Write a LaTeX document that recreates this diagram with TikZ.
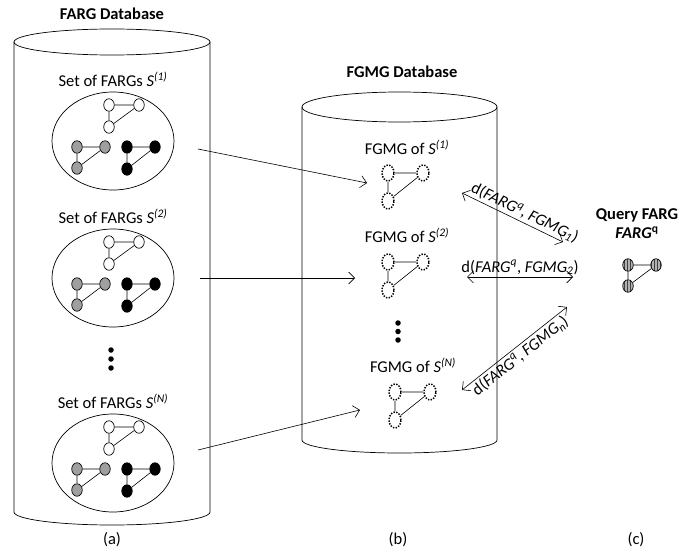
\documentclass[tikz,border=0pt]{standalone}
\usepackage{fontspec}
\setmainfont{Carlito}
\usepackage{tikz}
\usetikzlibrary{arrows.meta, positioning, calc, shapes.geometric, patterns}
\tikzset{
x=1pt, y=1pt,
>={Straight Barb[length=6pt,width=12pt]},
black!85,
text=black,
lbl/.style={font=\fontsize{16.5}{19}\selectfont, inner sep=2pt},
title/.style={lbl, font=\fontsize{16.5}{19}\selectfont\bfseries},
dbline/.style={line width=0.7pt},
setbox/.style={%
    ellipse,
    draw,
    line width=0.7pt,
    minimum width=122,
    minimum height=98,
},
vtx/.style={%
    ellipse, draw=black, inner sep=0pt,
    minimum width=10.5, minimum height=12.5, line width=0.7pt
},
wv/.style={vtx, fill=white},
gv/.style={vtx, fill=gray!75},
bv/.style={vtx, fill=black},
fv/.style={vtx, dash pattern=on 1.4pt off 1.4pt, line width=1.5pt, minimum width=12, minimum height=16},
qv/.style={vtx, preaction={fill=gray!60}, pattern=vertical lines, pattern color=black!75},
dot/.style={circle, fill=black, inner sep=0pt, minimum size=5.5},
link/.style={line width=0.6pt},
conn/.style={->, line width=0.6pt},
dist/.style={<->, line width=0.6pt},
}

\begin{document}
\begin{tikzpicture}
	\useasboundingbox (0,0) rectangle (694,-551);

	% (a) FARG database
	\node[title] (fargdb) at (112,-14) {FARG Database};
	\draw[dbline] (14,-42) -- (14,-512) arc[start angle=180, end angle=360, x radius=98, y radius=13] -- (210,-42);
	\draw[dbline] (112,-42) ellipse[x radius=98, y radius=13];

	\foreach \s/\cy/\idx in {1/141/1, 2/278/2, n/463/N} {
		\node[setbox] (set\s) at (113,-\cy) {};
		\node[lbl, above=3pt of set\s] (setlbl\s) {Set of FARGs \textit{S}\textsuperscript{\textit{(\idx)}}};
		\node[wv] (w\s-1) at ($(set\s)+(-4,36)$) {};
		\node[wv] (w\s-2) at ($(set\s)+(26,36)$) {};
		\node[wv] (w\s-3) at ($(set\s)+(-4,14)$) {};
		\node[gv] (g\s-1) at ($(set\s)+(-36,-6)$) {};
		\node[gv] (g\s-2) at ($(set\s)+(-8,-6)$) {};
		\node[gv] (g\s-3) at ($(set\s)+(-36,-27)$) {};
		\node[bv] (b\s-1) at ($(set\s)+(14,-6)$) {};
		\node[bv] (b\s-2) at ($(set\s)+(42,-6)$) {};
		\node[bv] (b\s-3) at ($(set\s)+(14,-28)$) {};
		\foreach \v in {w,g,b}
			\draw[link] (\v\s-1) -- (\v\s-2) (\v\s-1) -- (\v\s-3) (\v\s-3) -- (\v\s-2);
	}
	\foreach \k in {0,1,2}
		\node[dot] (adot\k) at (111,-350-9*\k) {};
	\node[lbl] (capa) at (112,-540) {(a)};

	% (b) FGMG database
	\node[title] (fgmgdb) at (402,-72) {FGMG Database};
	\draw[dbline] (302,-107) -- (302,-440) arc[start angle=180, end angle=360, x radius=97.5, y radius=13] -- (497,-107);
	\draw[dbline] (399.5,-107) ellipse[x radius=97.5, y radius=15];

	\foreach \s/\lx/\ly/\gx/\gy/\idx in {1/407/147/388/173/1, 2/407/235/388/262/2, n/413/365/395/392/N} {
		\node[lbl] (flbl\s) at (\lx,-\ly) {FGMG of \textit{S}\textsuperscript{\textit{(\idx)}}};
		\node[fv] (f\s-1) at (\gx,-\gy) {};
		\node[fv] (f\s-2) at ($(f\s-1)+(35,0)$) {};
		\node[fv] (f\s-3) at ($(f\s-1)+(0,-28)$) {};
		\draw[link] (f\s-1) -- (f\s-2) (f\s-1) -- (f\s-3) (f\s-3) -- (f\s-2);
	}
	\foreach \k in {0,1,2}
		\node[dot] (bdot\k) at (398,-323-8.5*\k) {};
	\node[lbl] (capb) at (398,-540) {(b)};

	% (c) query
	\node[title, align=center] (query) at (637,-224) {Query FARG\\\textit{FARG}\textsuperscript{q}};
	\node[qv] (q-1) at (628,-265) {};
	\node[qv] (q-2) at (656,-265) {};
	\node[qv] (q-3) at (628,-286) {};
	\draw[link] (q-1) -- (q-2) (q-1) -- (q-3) (q-3) -- (q-2);
	\node[lbl] (capc) at (636,-540) {(c)};

	% set -> FGMG
	\coordinate (out1) at (198,-149);
	\coordinate (in1) at (367,-183);
	\coordinate (out2) at (200,-278);
	\coordinate (in2) at (355,-278);
	\coordinate (outn) at (198,-450);
	\coordinate (inn) at (360,-410);
	\draw[conn] (out1) -- (in1);
	\draw[conn] (out2) -- (in2);
	\draw[conn] (outn) -- (inn);

	% distances
	\coordinate (d1a) at (462,-193);
	\coordinate (d1b) at (563,-242);
	\coordinate (d2a) at (467,-277);
	\coordinate (d2b) at (573,-277);
	\coordinate (dna) at (462,-390);
	\coordinate (dnb) at (567,-307);
	\draw[dist] (d1a) -- node[lbl, sloped, above, pos=0.58] (dist1) {d(\textit{FARG}\textsuperscript{\textit{q}}, \textit{FGMG}\textsubscript{\textit{1}})} (d1b);
	\draw[dist] (d2a) -- node[lbl, above, midway] (dist2) {d(\textit{FARG}\textsuperscript{\textit{q}}, \textit{FGMG}\textsubscript{\textit{2}})} (d2b);
	\draw[dist] (dna) -- node[lbl, sloped, below, midway] (distn) {d(\textit{FARG}\textsuperscript{\textit{q}}, \textit{FGMG}\textsubscript{\textit{n}})} (dnb);
\end{tikzpicture}
\end{document}
